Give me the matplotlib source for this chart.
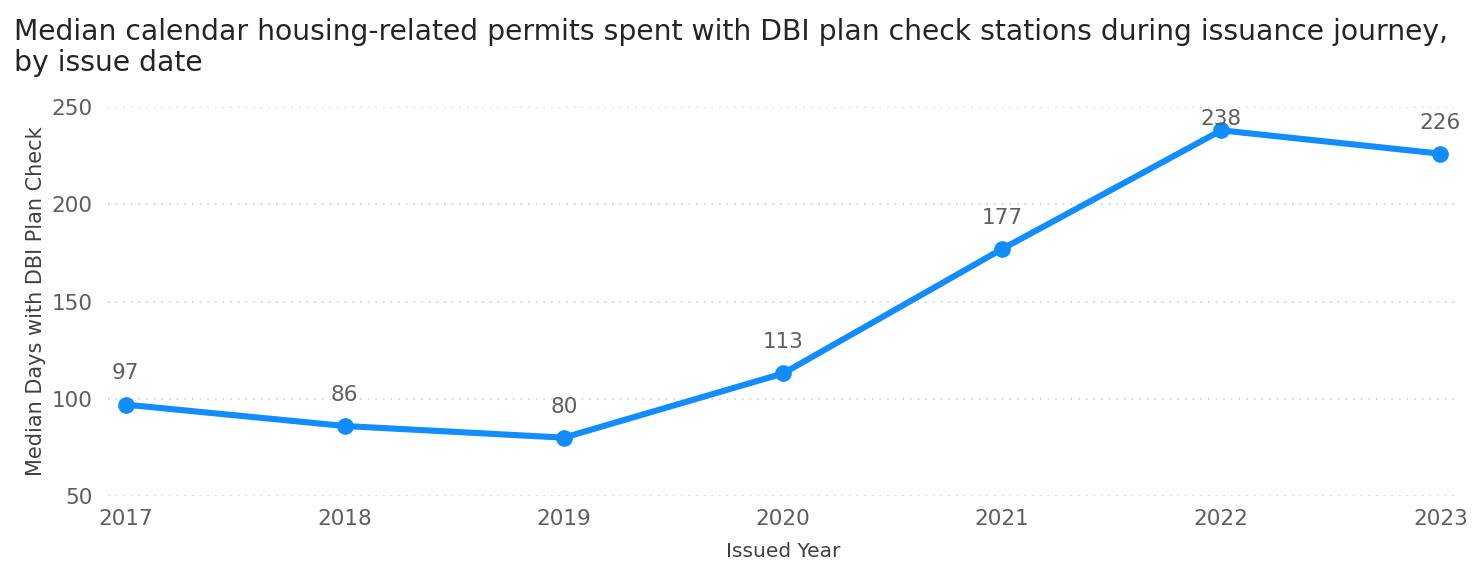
import matplotlib.pyplot as plt

# data
years = [2017, 2018, 2019, 2020, 2021, 2022, 2023]
median_days = [97, 86, 80, 113, 177, 238, 226]
y_ticks = [50, 100, 150, 200, 250]

plt.rcParams['font.family'] = ['DejaVu Sans']

fig = plt.figure(figsize=(14.73, 5.62), dpi=100)
ax = fig.add_axes([0.0733, 0.1174, 0.9165, 0.6922])

ax.plot(years, median_days, color='#118DFF', linewidth=4.4, marker='o',
        markersize=11, solid_capstyle='round', zorder=3)

ax.set_xlim(2016.92, 2023.08)
ax.set_ylim(50, 250)

# data labels above points, kept inside the plot area like Power BI does
for x, y in zip(years, median_days):
    label_y = min(y + 16, 244)
    ax.text(x, label_y, str(y), ha='center', va='center', fontsize=15.5,
            color='#605E5C', zorder=4)

ax.set_xticks(years)
ax.set_yticks(y_ticks)
ax.tick_params(axis='both', length=0, labelsize=15.5, labelcolor='#605E5C')
ax.tick_params(axis='y', pad=11)
ax.tick_params(axis='x', pad=9)
for s in ax.spines.values():
    s.set_visible(False)
ax.grid(axis='y', linestyle=(0, (1, 4)), color='#C8C8C8', linewidth=1.1)
ax.set_axisbelow(True)

ax.set_xlabel('Issued Year', fontsize=14.5, color='#404040', labelpad=10)
ax.set_ylabel('Median Days with DBI Plan Check', fontsize=15, color='#404040', labelpad=4)

fig.text(0.0095, 0.968, 'Median calendar housing-related permits spent with DBI plan check stations during issuance journey,\nby issue date',
         ha='left', va='top', fontsize=20.3, color='#252423', linespacing=1.12)

plt.savefig('out.png', dpi=100)
